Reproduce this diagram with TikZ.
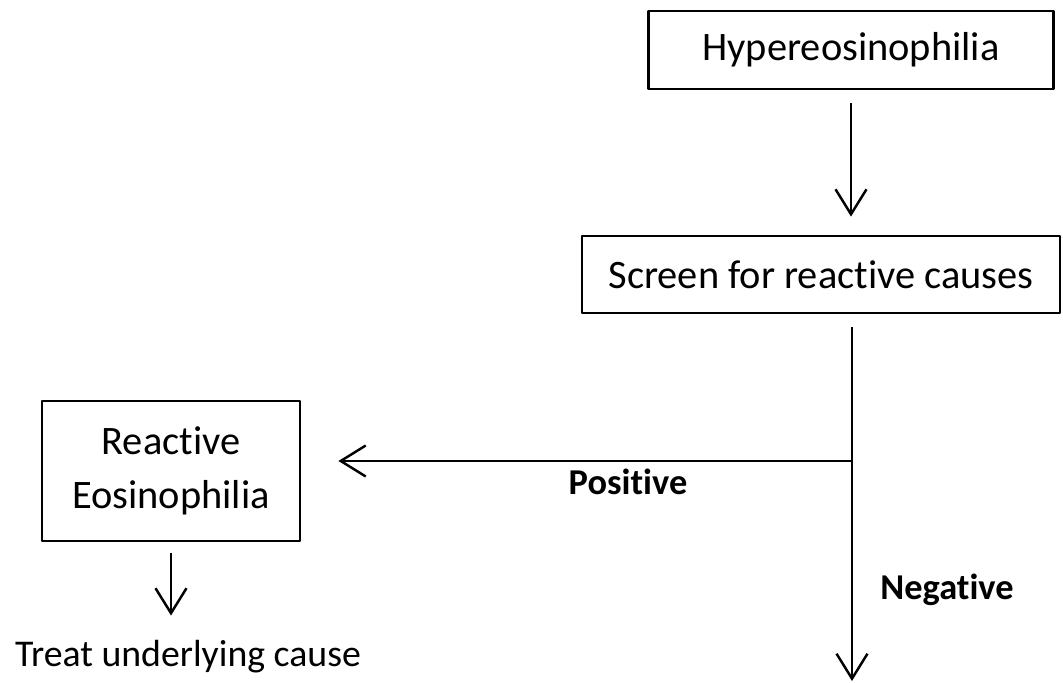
\documentclass[tikz,border=0pt]{standalone}
\usepackage{fontspec}
\setmainfont[Ligatures=NoCommon]{Carlito}
\usetikzlibrary{arrows.meta}
\begin{document}
\begin{tikzpicture}[line width=1.4pt, line join=round,
	>={Straight Barb[length=0.5cm,width=0.62cm]},
	box/.style={draw,line width=1.6pt,inner sep=0pt,align=center,font=\fontsize{23}{30.5}\selectfont},
	lab/.style={anchor=base,inner sep=0pt,font=\fontsize{20.7}{25}\selectfont\bfseries}]
	\useasboundingbox (0,0) rectangle (21.26,-13.66);
	\node[box,minimum width=8.1cm,minimum height=1.56cm] (hyp) at (17.02,-1.0) {Hypereosinophilia};
	\node[box,minimum width=9.56cm,minimum height=1.54cm] (scr) at (16.42,-5.49) {Screen for reactive causes};
	\node[box,minimum width=5.16cm,minimum height=2.8cm] (rea) at (3.42,-9.42) {Reactive\\Eosinophilia};
	\node[anchor=base,inner sep=0pt,font=\fontsize{21.5}{25}\selectfont] (treat) at (3.76,-13.34) {Treat underlying cause};
	\coordinate (split) at (17.04,-9.22);
	\coordinate (stop) at (17.04,-13.62);
	% arrows
	\draw[->,shorten <=0.26cm,shorten >=0.36cm] (hyp.south)--(hyp.south |- scr.north);
	\draw[->,shorten <=0.26cm] (scr.south -| split)--(stop);
	\draw[->,shorten >=0.74cm] (split)--(split -| rea.east);
	\draw[->,shorten <=0.22cm,shorten >=0.48cm] (rea.south)--(rea.south |- treat.north);
	\node[lab] (pos) at (12.56,-9.9) {Positive};
	\node[lab] (neg) at (18.94,-12.0) {Negative};
\end{tikzpicture}
\end{document}
